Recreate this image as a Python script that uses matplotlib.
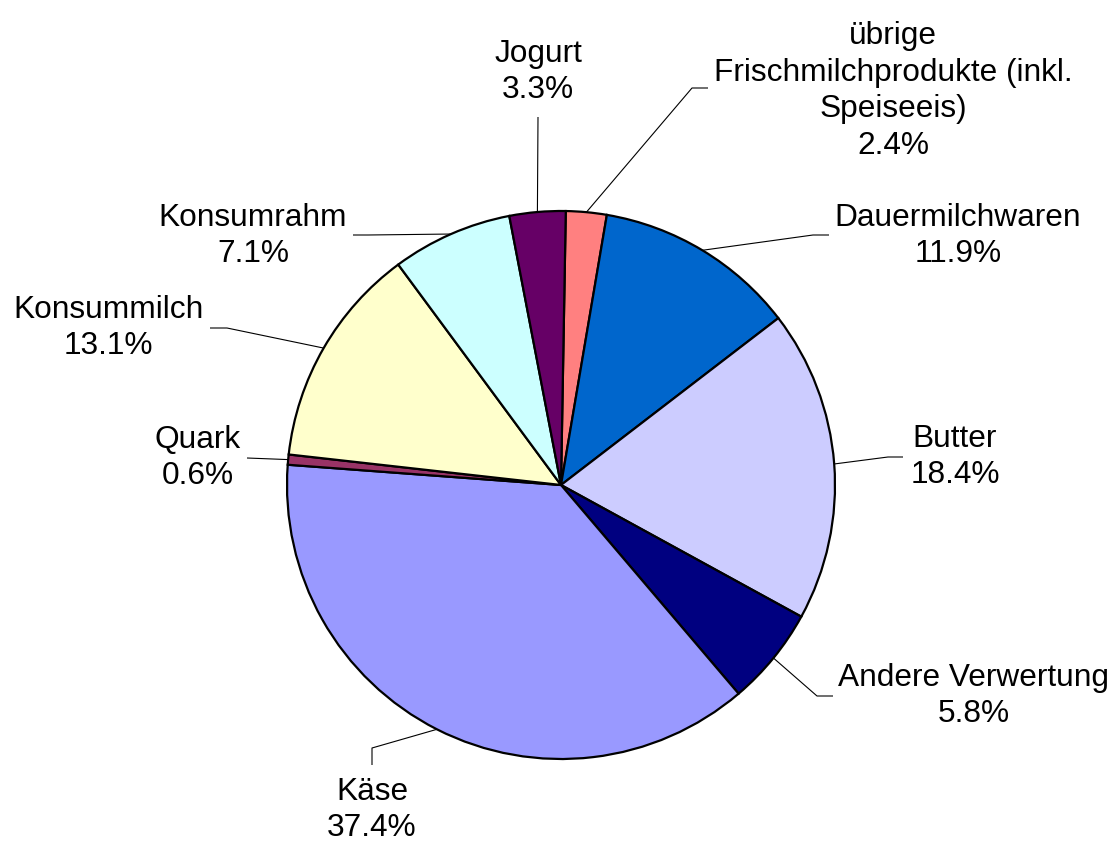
import matplotlib
matplotlib.use("Agg")
import matplotlib.pyplot as plt
import numpy as np

plt.rcParams['font.family'] = ['Liberation Sans', 'DejaVu Sans']

# Milchverwertung, Anteile in %
labels = ["übrige\nFrischmilchprodukte (inkl.\nSpeiseeis)",
          "Dauermilchwaren", "Butter", "Andere Verwertung", "Käse",
          "Quark", "Konsummilch", "Konsumrahm", "Jogurt"]
shares = [2.4, 11.9, 18.4, 5.8, 37.4, 0.6, 13.1, 7.1, 3.3]
colors = ["#FF8080", "#0066CC", "#CCCCFF", "#000080", "#9999FF",
          "#993366", "#FFFFCC", "#CCFFFF", "#660066"]

W, H = 1120, 844

# label layout in pixels (top-left origin): text centre, leader path after the wedge
text_pos = [(893, 91), (958, 236), (955, 457), (974, 696), (372, 810),
            (198, 458), (108, 328), (253, 236), (538, 72)]
leaders = [[(692, 88), (708, 88)],
           [(813, 235), (829, 235)],
           [(888, 457), (903, 457)],
           [(817, 696), (833, 696)],
           [(372, 748), (372, 765)],
           [(247, 458)],
           [(227, 328), (210, 328)],
           [(368, 235), (353, 235)],
           [(538, 117)]]

fig = plt.figure(figsize=(W / 100, H / 100), dpi=100)
ax = fig.add_axes([0, 0, 1, 1])

wedges, _ = ax.pie(shares, colors=colors, startangle=89, counterclock=False,
                   center=(561, H - 485), radius=274,
                   wedgeprops=dict(edgecolor="black", linewidth=1.6))

for w, lab, val, tp, path in zip(wedges, labels, shares, text_pos, leaders):
    mid = np.deg2rad((w.theta1 + w.theta2) / 2)
    x0 = w.center[0] + w.r * np.cos(mid)
    y0 = w.center[1] + w.r * np.sin(mid)
    xs = [x0] + [p[0] for p in path]
    ys = [y0] + [H - p[1] for p in path]
    ax.plot(xs, ys, color="black", lw=0.8, solid_capstyle="butt")
    ax.text(tp[0], H - tp[1], "{}\n{:.1f}%".format(lab, val),
            ha="center", va="center", multialignment="center",
            fontsize=22.8, linespacing=1.3)

ax.set_xlim(0, W)
ax.set_ylim(0, H)
ax.set_aspect("equal")
ax.axis("off")

fig.savefig("out.png", dpi=100)
